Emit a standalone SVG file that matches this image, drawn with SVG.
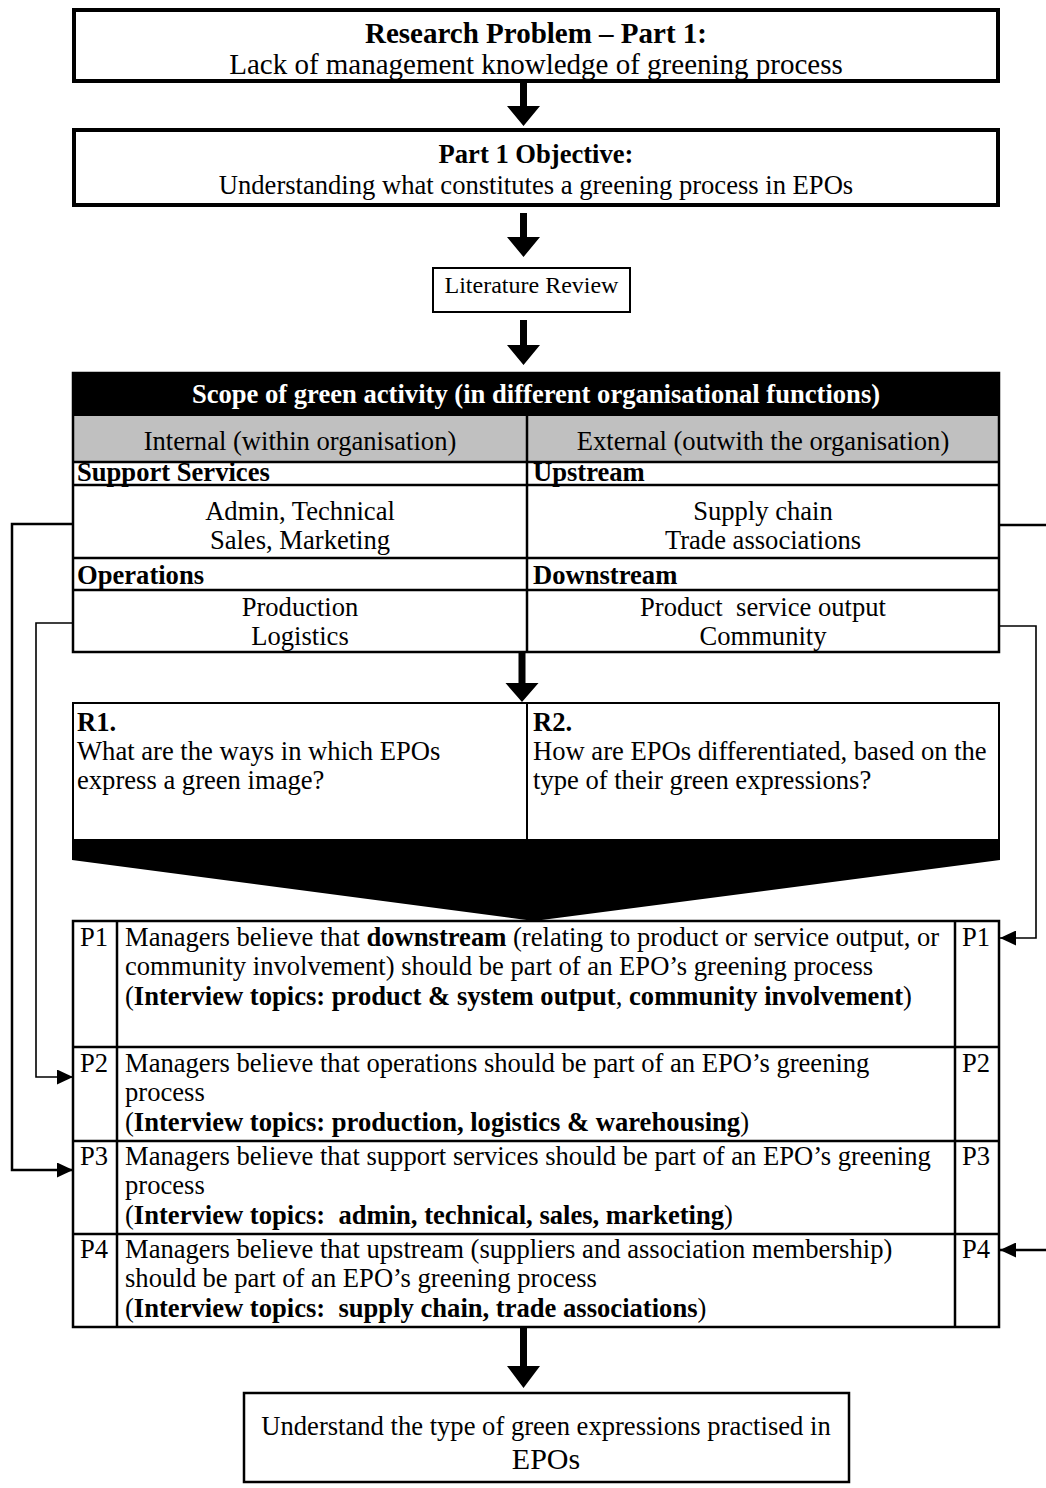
<svg xmlns="http://www.w3.org/2000/svg" width="1046" height="1488" viewBox="0 0 1046 1488">
<style>
text{font-family:"Liberation Serif","Times New Roman",serif;font-size:26.6px;fill:#000;white-space:pre}
.b{font-weight:bold}
.c{text-anchor:middle}
.big{font-size:29px}
.thick{fill:#fff;stroke:#000;stroke-width:4}
.box{fill:#fff;stroke:#000;stroke-width:2.5}
.ln{fill:none;stroke:#000;stroke-width:2.5}
.conn{fill:none;stroke:#000;stroke-width:2.5}
.conn2{fill:none;stroke:#000;stroke-width:1.6}
.wt{fill:#fff}
</style>
<defs>
<marker id="ah" viewBox="0 0 16 15" refX="16" refY="7.5" markerWidth="16" markerHeight="15" markerUnits="userSpaceOnUse" orient="auto">
<path d="M0,0 L16,7.5 L0,15 z" fill="#000"/>
</marker>
</defs>
<rect width="1046" height="1488" fill="#fff"/>

<g id="problem">
<rect class="thick" x="74" y="10" width="924" height="71"/>
<text class="b c big" x="536" y="43">Research Problem – Part 1:</text>
<text class="c big" x="536" y="74">Lack of management knowledge of greening process</text>
</g>

<g id="objective">
<rect class="thick" x="74" y="130" width="924" height="75"/>
<text class="b c" x="536" y="163">Part 1 Objective:</text>
<text class="c" x="536" y="194">Understanding what constitutes a greening process in EPOs</text>
</g>

<g id="literature">
<rect x="433" y="268" width="197" height="44" fill="#fff" stroke="#000" stroke-width="2"/>
<text class="c" x="531.5" y="293" style="font-size:24px">Literature Review</text>
</g>

<g id="scope">
<rect x="72" y="373" width="928" height="43" fill="#000"/>
<rect x="72" y="416" width="928" height="46" fill="#c0c0c0"/>
<rect class="ln" x="73" y="373" width="926" height="279"/>
<line class="ln" x1="72" y1="462" x2="1000" y2="462"/>
<line class="ln" x1="72" y1="485" x2="1000" y2="485"/>
<line class="ln" x1="72" y1="558" x2="1000" y2="558"/>
<line class="ln" x1="72" y1="590" x2="1000" y2="590"/>
<line class="ln" x1="527" y1="416" x2="527" y2="652"/>
<text class="b c wt" x="536" y="403">Scope of green activity (in different organisational functions)</text>
<text class="c" x="300" y="450">Internal (within organisation)</text>
<text class="c" x="763" y="450">External (outwith the organisation)</text>
<text class="b" x="77" y="481">Support Services</text>
<text class="b" x="533" y="481">Upstream</text>
<text class="c" x="300" y="520">Admin, Technical</text>
<text class="c" x="300" y="549">Sales, Marketing</text>
<text class="c" x="763" y="520">Supply chain</text>
<text class="c" x="763" y="549">Trade associations</text>
<text class="b" x="77" y="584">Operations</text>
<text class="b" x="533" y="584">Downstream</text>
<text class="c" x="300" y="616">Production</text>
<text class="c" x="300" y="645">Logistics</text>
<text class="c" x="763" y="616">Product  service output</text>
<text class="c" x="763" y="645">Community</text>
</g>

<g id="research-questions">
<rect x="73" y="703" width="926" height="137" fill="#fff" stroke="#000" stroke-width="2"/>
<line x1="527" y1="703" x2="527" y2="840" stroke="#000" stroke-width="2"/>
<text class="b" x="77" y="731">R1.</text>
<text x="77" y="760">What are the ways in which EPOs</text>
<text x="77" y="789">express a green image?</text>
<text class="b" x="533" y="731">R2.</text>
<text x="533" y="760">How are EPOs differentiated, based on the</text>
<text x="533" y="789">type of their green expressions?</text>
<polygon points="72,839 1000,839 1000,860 534,921 72,860" fill="#000"/>
</g>

<g id="propositions">
<rect class="box" x="73" y="921" width="926" height="406"/>
<line class="ln" x1="117" y1="921" x2="117" y2="1327"/>
<line class="ln" x1="955" y1="921" x2="955" y2="1327"/>
<line class="ln" x1="72" y1="1047" x2="1000" y2="1047"/>
<line class="ln" x1="72" y1="1141" x2="1000" y2="1141"/>
<line class="ln" x1="72" y1="1234" x2="1000" y2="1234"/>
<g id="p1">
<text x="80" y="946">P1</text>
<text x="962" y="946">P1</text>
<text x="125" y="946">Managers believe that <tspan class="b">downstream</tspan> (relating to product or service output, or</text>
<text x="125" y="975">community involvement) should be part of an EPO’s greening process</text>
<text x="125" y="1005">(<tspan class="b">Interview topics: product &amp; system output</tspan>, <tspan class="b">community involvement</tspan>)</text>
</g>
<g id="p2">
<text x="80" y="1072">P2</text>
<text x="962" y="1072">P2</text>
<text x="125" y="1072">Managers believe that operations should be part of an EPO’s greening</text>
<text x="125" y="1101">process</text>
<text x="125" y="1131">(<tspan class="b">Interview topics: production, logistics &amp; warehousing</tspan>)</text>
</g>
<g id="p3">
<text x="80" y="1165">P3</text>
<text x="962" y="1165">P3</text>
<text x="125" y="1165">Managers believe that support services should be part of an EPO’s greening</text>
<text x="125" y="1194">process</text>
<text x="125" y="1224">(<tspan class="b">Interview topics:  admin, technical, sales, marketing</tspan>)</text>
</g>
<g id="p4">
<text x="80" y="1258">P4</text>
<text x="962" y="1258">P4</text>
<text x="125" y="1258">Managers believe that upstream (suppliers and association membership)</text>
<text x="125" y="1287">should be part of an EPO’s greening process</text>
<text x="125" y="1317">(<tspan class="b">Interview topics:  supply chain, trade associations</tspan>)</text>
</g>
</g>

<g id="outcome">
<rect class="box" x="244" y="1393" width="605" height="89"/>
<text class="c" x="546" y="1435">Understand the type of green expressions practised in</text>
<text class="c" x="546" y="1469" style="font-size:30px">EPOs</text>
</g>

<g id="connectors">
<polygon points="520,82 527,82 527,106 540,106 523.5,126 507,106 520,106"/>
<polygon points="520,213 527,213 527,237 540,237 523.5,257 507,237 520,237"/>
<polygon points="520,320 527,320 527,345 540,345 523.5,365 507,345 520,345"/>
<polygon points="518.5,652 525.5,652 525.5,683 538.5,683 522,702 505.5,683 518.5,683"/>
<polygon points="520,1328 527,1328 527,1366 540,1366 523.5,1388 507,1366 520,1366"/>
<path class="conn" d="M73,524 H12 V1170 H73" marker-end="url(#ah)"/>
<path class="conn2" d="M73,623 H36 V1077 H73" marker-end="url(#ah)"/>
<path class="conn" d="M1000,525 H1052 V1250 H1000" marker-end="url(#ah)"/>
<path class="conn2" d="M1000,626 H1036 V938 H1000" marker-end="url(#ah)"/>
</g>
</svg>
